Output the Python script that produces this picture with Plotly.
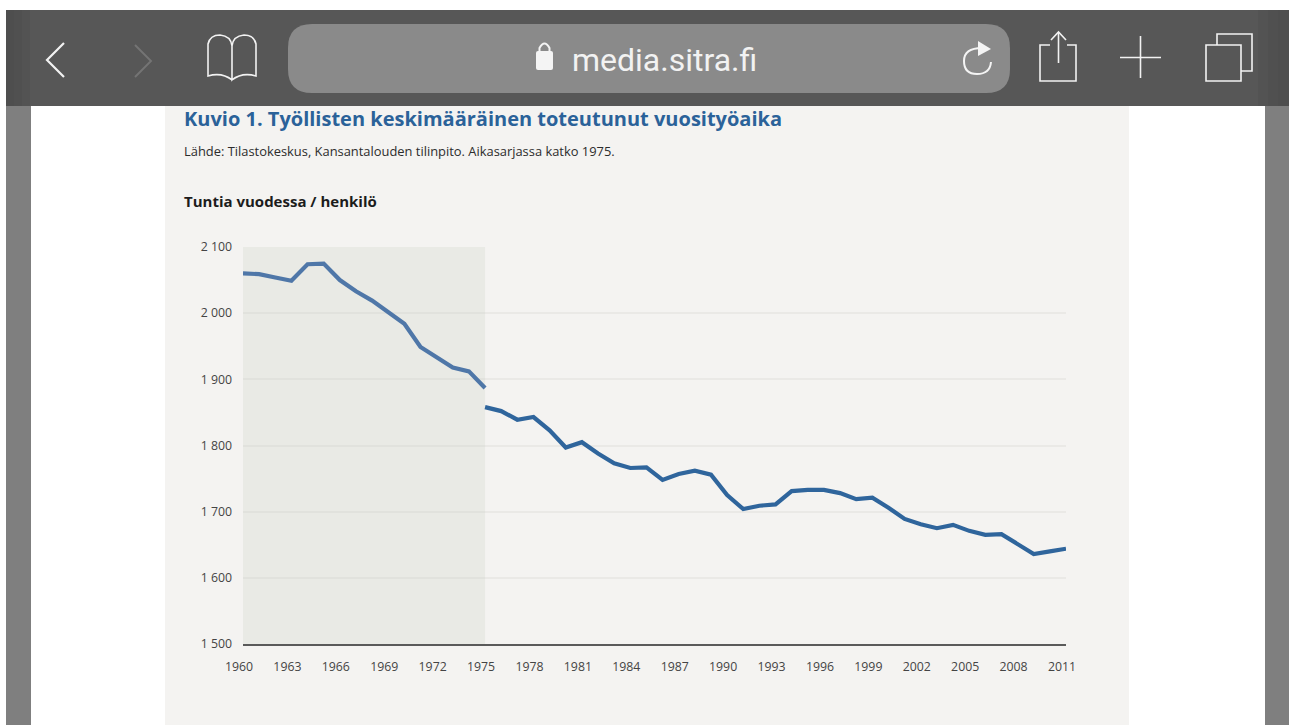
import plotly.graph_objects as go

W, H = 1289, 725

# ---- data ----
years_a = list(range(1960, 1976))
hours_a = [2060, 2059, 2054, 2049, 2074, 2075, 2050, 2033, 2019, 2002, 1984, 1949, 1934, 1918, 1912, 1887]
years_b = list(range(1975, 2012))
hours_b = [1858, 1852, 1839, 1843, 1823, 1797, 1805, 1788, 1773, 1766, 1767, 1748, 1757, 1762, 1756,
           1725, 1704, 1709, 1711, 1731, 1733, 1733, 1728, 1719, 1721, 1706, 1689, 1681, 1675, 1680,
           1671, 1665, 1666, 1651, 1636, 1640, 1644]
x_ticks = list(range(1960, 2012, 3))
y_ticks = [1500, 1600, 1700, 1800, 1900, 2000, 2100]
y_tick_labels = ["1 500", "1 600", "1 700", "1 800", "1 900", "2 000", "2 100"]
title_text = "Kuvio 1. Työllisten keskimääräinen toteutunut vuosityöaika"
source_text = "Lähde: Tilastokeskus, Kansantalouden tilinpito. Aikasarjassa katko 1975."
unit_text = "Tuntia vuodessa / henkilö"
url_text = "media.sitra.fi"

BLUE = "#2f659c"
FONT = "Open Sans"


def px(x):
    return x / W


def py(y):
    return 1 - y / H


def rect(x0, y0, x1, y1, color, layer="below"):
    return dict(type="rect", xref="paper", yref="paper", x0=px(x0), x1=px(x1), y0=py(y0), y1=py(y1),
                fillcolor=color, line_width=0, layer=layer)


def path(points, color="#f2f2f2", width=1.6, fill=None, layer="above"):
    """points: list of SVG commands with pixel pairs, converted to paper coordinates."""
    parts = []
    for cmd in points:
        if cmd == "Z":
            parts.append("Z")
            continue
        letter, coords = cmd[0], cmd[1:]
        pairs = [f"{px(coords[i]):.5f},{py(coords[i + 1]):.5f}" for i in range(0, len(coords), 2)]
        parts.append(letter + " ".join(pairs))
    shape = dict(type="path", xref="paper", yref="paper", path=" ".join(parts),
                 line=dict(color=color, width=width), layer=layer)
    if fill:
        shape["fillcolor"] = fill
    return shape


def rounded(x0, y0, x1, y1, r):
    return [("M", x0 + r, y0), ("L", x1 - r, y0), ("Q", x1, y0, x1, y0 + r), ("L", x1, y1 - r),
            ("Q", x1, y1, x1 - r, y1), ("L", x0 + r, y1), ("Q", x0, y1, x0, y1 - r), ("L", x0, y0 + r),
            ("Q", x0, y0, x0 + r, y0), "Z"]


shapes = [
    # page behind the chart
    rect(6, 106, 31, H, "#7f7f7f"),
    rect(1265, 106, W, H, "#7f7f7f"),
    rect(165, 106, 1129, H, "#f4f3f1"),
    # shaded period before the series break (translucent so the grid shows through)
    dict(type="rect", xref="x", yref="y", x0=1960, x1=1975, y0=1500, y1=2100,
         fillcolor="rgba(190,198,185,0.2)", line_width=0, layer="between"),
    # browser toolbar, slightly darker towards both ends
    rect(6, 10, W, 106, "#575757", layer="above"),
    rect(6, 10, 14, 106, "#4e4e4e", layer="above"),
    rect(14, 10, 22, 106, "#505050", layer="above"),
    rect(22, 10, 30, 106, "#535353", layer="above"),
    rect(1258, 10, 1268, 106, "#535353", layer="above"),
    rect(1268, 10, 1278, 106, "#505050", layer="above"),
    rect(1278, 10, W, 106, "#4e4e4e", layer="above"),
    path(rounded(288, 24, 1010, 93, 24), color="#8a8a8a", width=0, fill="#8a8a8a"),
    # back / forward
    path([("M", 64, 43), ("L", 47, 60), ("L", 64, 77)], width=2.2),
    path([("M", 135, 45), ("L", 151, 61), ("L", 135, 77)], color="#747474", width=2),
    # book
    path([("M", 232, 80), ("Q", 222, 72, 208, 76), ("L", 208, 44), ("Q", 210, 35, 220, 35),
          ("Q", 231, 36, 232, 46), ("Q", 233, 36, 244, 35), ("Q", 254, 35, 256, 44), ("L", 256, 76),
          ("Q", 242, 72, 232, 80), ("L", 232, 46)]),
    # lock
    path(rounded(536, 51, 553, 70, 2), color="#f4f4f4", width=0, fill="#f4f4f4"),
    path([("M", 539.5, 52), ("L", 539.5, 48), ("Q", 544.5, 39, 549.5, 48), ("L", 549.5, 52)],
         color="#f4f4f4", width=2),
    # reload
    path([("M", 982, 48), ("Q", 964, 48, 964, 61), ("Q", 964, 74, 977, 74), ("Q", 990, 74, 991, 62)],
         color="#f4f4f4", width=2),
    path([("M", 978, 41), ("L", 991, 49), ("L", 978, 56), "Z"], color="#f4f4f4", width=0, fill="#f4f4f4"),
    # share
    path([("M", 1050, 45), ("L", 1040, 45), ("L", 1040, 81), ("L", 1076, 81), ("L", 1076, 45), ("L", 1067, 45)]),
    path([("M", 1058.5, 63), ("L", 1058.5, 32)]),
    path([("M", 1051, 40), ("L", 1058.5, 32), ("L", 1066, 40)]),
    # new tab
    path([("M", 1120, 57.5), ("L", 1161, 57.5)]),
    path([("M", 1140.5, 36), ("L", 1140.5, 78)]),
    # tabs
    path([("M", 1206, 45), ("L", 1241, 45), ("L", 1241, 81), ("L", 1206, 81), "Z"]),
    path([("M", 1217, 45), ("L", 1217, 34), ("L", 1252, 34), ("L", 1252, 71), ("L", 1241, 71)]),
]

annotations = [
    dict(text=f"<b>{title_text}</b>", x=px(181.5), y=py(118), font=dict(size=20, color="#2b6299", family=FONT)),
    dict(text=source_text, x=px(181.5), y=py(151), font=dict(size=12.9, color="#2c2c2c", family=FONT)),
    dict(text=f"<b>{unit_text}</b>", x=px(181.5), y=py(201), font=dict(size=15, color="#1c1c1c", family=FONT)),
    dict(text=url_text, x=px(570), y=py(60), font=dict(size=32, color="#f2f2f2", family="Roboto")),
]
for a in annotations:
    a.update(xref="paper", yref="paper", xanchor="left", yanchor="middle", showarrow=False)

fig = go.Figure()
fig.add_trace(go.Scatter(x=years_a, y=hours_a, mode="lines", line=dict(color="#4f77a8", width=4.2)))
fig.add_trace(go.Scatter(x=years_b, y=hours_b, mode="lines", line=dict(color=BLUE, width=4.2)))

fig.update_layout(
    width=W, height=H, autosize=False,
    margin=dict(l=0, r=0, t=0, b=0, pad=0),
    paper_bgcolor="#ffffff", plot_bgcolor="rgba(0,0,0,0)",
    showlegend=False, shapes=shapes, annotations=annotations,
    xaxis=dict(domain=[px(243), px(1066)], range=[1960, 2011], tickmode="array", tickvals=x_ticks,
               automargin=False, ticks="", showgrid=False, zeroline=False, showline=True,
               linecolor="#5a5a5a", linewidth=2,
               tickfont=dict(family=FONT, size=12.3, color="#444444"), ticklabelshift=-4, ticklabelstandoff=10),
    yaxis=dict(domain=[py(644), py(246.34)], range=[1500, 2101], tickmode="array", tickvals=y_ticks,
               automargin=False, ticktext=y_tick_labels, ticks="", gridcolor="#eae9e6", gridwidth=1.5,
               zeroline=False, showline=False,
               tickfont=dict(family=FONT, size=12.3, color="#444444"), ticklabelstandoff=10),
)

fig.write_html("out.html", config=dict(displayModeBar=False),
               post_script="document.body.style.margin='0';document.body.style.overflow='hidden';")
